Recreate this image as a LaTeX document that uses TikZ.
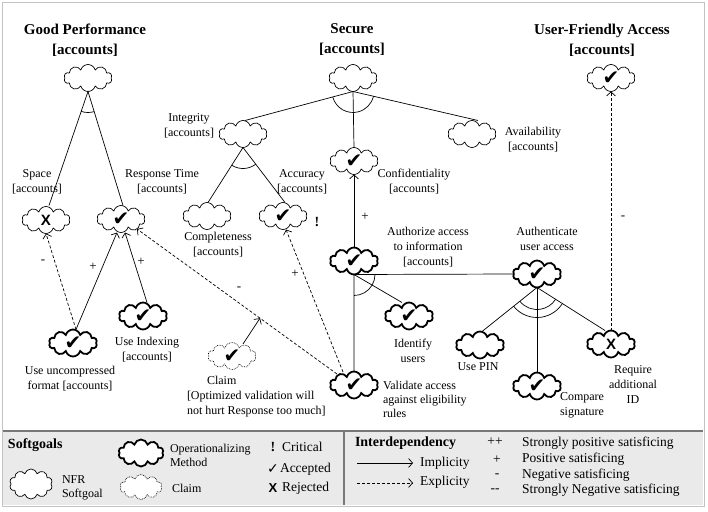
\documentclass[tikz,border=0pt]{standalone}
\usepackage{fontspec}
\setmainfont{Liberation Serif}
\newfontfamily\symfont{DejaVu Sans}
\newfontfamily\xfont{Liberation Sans}
\usetikzlibrary{shapes.symbols,arrows.meta,angles,calc}
\definecolor{legbg}{RGB}{234,234,234}
\definecolor{frm}{RGB}{195,195,195}
\definecolor{legln}{RGB}{120,120,120}
\newcommand{\accts}{[accounts]}
\newcommand{\chk}{{\symfont\fontsize{20}{20}\selectfont ✔}}
\newcommand{\xmk}{{\xfont\bfseries\fontsize{15}{15}\selectfont X}}
\begin{document}
\begin{tikzpicture}[x=1pt,y=-1pt,
 every node/.style={inner sep=0pt,outer sep=0pt},
 lbl/.style={font=\fontsize{12}{15}\selectfont,align=center},
 ttl/.style={font=\bfseries\fontsize{15}{20}\selectfont,align=center},
 sgoal/.style={cloud,cloud puffs=10,cloud ignores aspect,minimum width=48pt,minimum height=27pt,draw,fill=white,line width=0.7pt},
 opmeth/.style={sgoal,line width=1.8pt},
 claimc/.style={sgoal,densely dotted},
 chkm/.style={label={center:\chk}},
 rejm/.style={label={center:\xmk}},
 thinl/.style={line width=0.7pt},
 implarr/.style={thinl,-{Straight Barb[length=4pt,width=9pt]}},
 explarr/.style={implarr,densely dashed},
 signlbl/.style={font=\fontsize{13}{13}\selectfont},
 andarc/.style={draw,line width=0.7pt,angle radius=21pt},
 legtxt/.style={font=\fontsize{12}{14}\selectfont,align=left,anchor=west},
 legtxtb/.style={font=\fontsize{13.5}{15}\selectfont,anchor=west},
 legsign/.style={font=\fontsize{13.5}{13.5}\selectfont,text height=4pt,text depth=0pt},
]
\useasboundingbox (0,0) rectangle (708,511);
% frame and legend background
\draw[frm,line width=0.8pt] (2,2) rectangle (704,506);
\fill[legbg] (3,431) rectangle (703,505);
\draw[legln,line width=1.2pt] (3,431) -- (703,431);
\draw[legln,line width=1.5pt] (344,431) -- (344,505);

% titles
\node[ttl] (tgp) at (85,40) {Good Performance\\\accts};
\node[ttl] (tsec) at (352,40) {Secure\\\accts};
\node[ttl] (tuf) at (602,40) {User-Friendly Access\\\accts};

% softgoals
\node[sgoal] (gp) at (88,78) {};
\node[sgoal] (sec) at (353,78) {};
\node[sgoal,chkm] (uf) at (611,78) {};
\node[sgoal,rejm] (sp) at (46,220) {};
\node[sgoal,chkm] (rt) at (121,219) {};
\node[sgoal] (int) at (243,134) {};
\node[sgoal] (av) at (472,134) {};
\node[sgoal,chkm] (conf) at (354,161) {};
\node[sgoal] (comp) at (207,216) {};
\node[sgoal,chkm] (acc) at (283,216) {};
% operationalizations
\node[opmeth,chkm] (authz) at (354,261) {};
\node[opmeth,chkm] (authn) at (537,274) {};
\node[opmeth,chkm] (idu) at (409,316) {};
\node[opmeth,chkm] (val) at (354,385) {};
\node[opmeth] (pin) at (480,345) {};
\node[opmeth,chkm] (cmp) at (537,386) {};
\node[opmeth,rejm] (req) at (611,344) {};
\node[opmeth,chkm] (uu) at (73,343) {};
\node[opmeth,chkm] (ui) at (143,316) {};
\node[claimc,chkm] (clm) at (232,356) {};

% labels
\node[lbl] (lsp) at (37,181.5) {Space\\\accts};
\node[lbl] (lrt) at (162,181.5) {Response Time\\\accts};
\node[lbl] (lint) at (189,126) {Integrity\\\accts};
\node[lbl] (lav) at (533,140) {Availability\\\accts};
\node[lbl] (lconf) at (414,181.5) {Confidentiality\\\accts};
\node[lbl] (lcomp) at (218,244.5) {Completeness\\\accts};
\node[lbl] (lacc) at (302,181.5) {Accuracy\\\accts};
\node[font=\bfseries\fontsize{14}{14}\selectfont] (crit) at (317,222) {!};
\node[lbl] (lauthz) at (428,247) {Authorize access\\to information\\\accts};
\node[lbl] (lauthn) at (547,239) {Authenticate\\user access};
\node[lbl] (lidu) at (413,350.5) {Identify\\users};
\node[lbl,align=left,anchor=west,font=\fontsize{12}{14}\selectfont] (lval) at (383,399) {Validate access\\against eligibility\\rules};
\node[lbl] (lpin) at (478,367) {Use PIN};
\node[lbl] (lcmp) at (582,405.5) {Compare\\signature};
\node[lbl] (lreq) at (633,385) {Require\\additional\\ID};
\node[lbl] (luu) at (70,378.5) {Use uncompressed\\format \accts};
\node[lbl] (lui) at (147,350) {Use Indexing\\\accts};
\node[lbl,align=left,anchor=north west] (lclm) at (187,376) {\hspace*{20pt}Claim\\{}[Optimized validation will\\not hurt Response too much]};

% decompositions
\coordinate (gpO) at (gp.south);
\coordinate (gpL) at ($(sp.north)+(3,-1)$);
\coordinate (gpR) at ($(rt.north)+(2,0)$);
\draw[thinl] (gpL) -- (gpO) -- (gpR);
\pic[andarc] {angle=gpL--gpO--gpR};

\coordinate (secO) at (sec.south);
\coordinate (secL) at ($(int.north)+(2,0)$);
\coordinate (secR) at ($(av.north)+(6,0)$);
\draw[thinl] (secL) -- (secO) -- (secR);
\draw[thinl] (secO) -- (conf.north);
\pic[andarc] {angle=secL--secO--secR};

\coordinate (intO) at (int.south);
\coordinate (intL) at ($(comp.north)+(1,0)$);
\coordinate (intR) at ($(acc.north)+(2,0)$);
\draw[thinl] (intL) -- (intO) -- (intR);
\pic[andarc] {angle=intL--intO--intR};

\coordinate (azO) at (authz.south);
\coordinate (azD) at (val.north);
\coordinate (azR) at (authn.west);
\coordinate (azI) at ($(idu.north)+(-7,0)$);
\draw[thinl] (azD) -- (azO) -- (azR);
\draw[thinl] (azO) -- (azI);
\pic[andarc] {angle=azD--azO--azR};

\coordinate (anO) at (authn.south);
\coordinate (anL) at ($(pin.north)+(2,0)$);
\coordinate (anM) at (cmp.north);
\coordinate (anR) at ($(req.north)+(-6,0)$);
\draw[thinl] (anL) -- (anO) -- (anR);
\draw[thinl] (anO) -- (anM);
\pic[andarc,angle radius=22pt] {angle=anL--anO--anR};
\pic[andarc,angle radius=30pt] {angle=anL--anO--anR};

% contributions
\coordinate (uuT) at ($(uu.north)+(3,0)$);
\draw[explarr] (uuT) -- (sp.south);
\draw[implarr] (uuT) -- ($(rt.south)+(-4,0)$);
\draw[implarr] ($(ui.north)+(4,0)$) -- ($(rt.south)+(4,0)$);
\coordinate (valTL) at ($(val.center)+(-17,-11)$);
\coordinate (rtBR) at ($(rt.center)+(16,10)$);
\draw[explarr] (valTL) -- (rtBR);
\coordinate (cp) at ($(valTL)!0.385!(rtBR)$);
\draw[implarr] ($(clm.center)+(11,-12)$) -- (cp);
\draw[explarr] ($(val.center)+(-11,-13)$) -- ($(acc.south)+(3,0)$);
\draw[implarr] (authz.north) -- (conf.south);
\draw[explarr] (req.north) -- (uf.south);

% signs
\node[signlbl] (s1) at (43,262) {-};
\node[signlbl] (s2) at (93,267) {+};
\node[signlbl] (s3) at (141,262) {+};
\node[signlbl] (s4) at (239,289) {-};
\node[signlbl] (s5) at (295,274) {+};
\node[signlbl] (s6) at (365,217) {+};
\node[signlbl] (s7) at (623,218) {-};

% legend left
\node[font=\bfseries\fontsize{14}{14}\selectfont,anchor=west] (lsg) at (8,445) {Softgoals};
\node[sgoal,minimum width=43pt,minimum height=30pt] (lgnfr) at (31,484) {};
\node[legtxt] (lgnfrt) at (62,487.5) {NFR\\Softgoal};
\node[opmeth,minimum width=45pt,minimum height=27pt] (lgop) at (141,453) {};
\node[legtxt] (lgopt) at (170,455.5) {Operationalizing\\Method};
\node[claimc,minimum width=42pt,minimum height=25pt] (lgcl) at (141,487) {};
\node[legtxt] (lgclt) at (172,488) {Claim};
\node[font=\bfseries\fontsize{14}{14}\selectfont] (lgex) at (273,447) {!};
\node[legtxtb] (lgcr) at (282,447) {Critical};
\node[font=\symfont\fontsize{14}{14}\selectfont] (lgck) at (273,469) {✓};
\node[legtxtb] (lgac) at (280,469) {Accepted};
\node[font=\xfont\bfseries\fontsize{13}{13}\selectfont] (lgx) at (273,488) {X};
\node[legtxtb] (lgrj) at (282,488) {Rejected};

% legend right
\node[font=\bfseries\fontsize{14}{14}\selectfont,anchor=west] (lint2) at (355,443) {Interdependency};
\coordinate (la1) at (357,463);
\coordinate (la2) at (413,463);
\coordinate (lb1) at (357,483);
\coordinate (lb2) at (413,483);
\draw[implarr] (la1) -- (la2);
\draw[explarr] (lb1) -- (lb2);
\node[legtxtb] (limp) at (420,463) {Implicity};
\node[legtxtb] (lexp) at (420,482) {Explicity};
\node[legsign] (lpp) at (495,443) {++};
\node[legtxtb] (lppt) at (522,443) {Strongly positive satisficing};
\node[legsign] (lp) at (497,461) {+};
\node[legtxtb] (lpt) at (522,459) {Positive satisficing};
\node[legsign] (lm) at (497,475) {-};
\node[legtxtb] (lmt) at (522,475) {Negative satisficing};
\node[legsign] (lmm) at (495,490) {-{}-};
\node[legtxtb] (lmmt) at (522,490) {Strongly Negative satisficing};
\end{tikzpicture}
\end{document}
